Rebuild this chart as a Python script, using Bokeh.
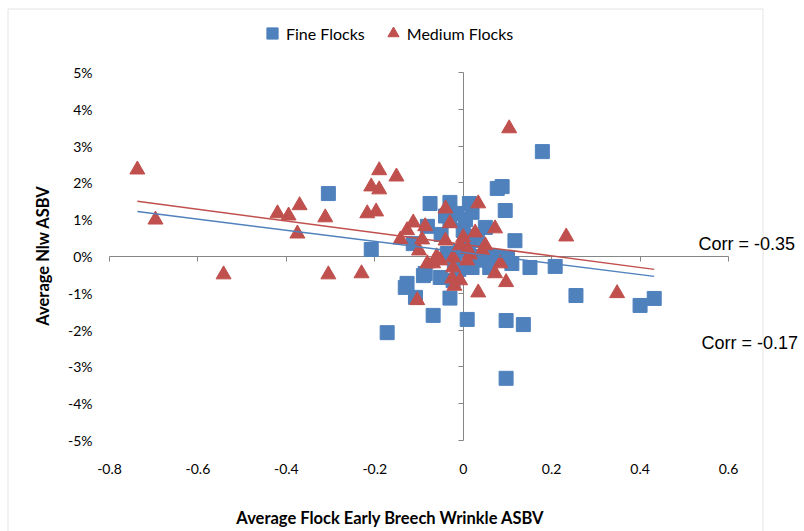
import math
from bokeh.plotting import figure
from bokeh.models import (LinearAxis, FixedTicker, Legend, LegendItem, Label,
                          BoxAnnotation, Range1d)
from bokeh.embed import file_html
from bokeh.resources import INLINE

# ---------------- data ----------------
fine_x = [-0.305, 0.179, 0.077, 0.088, -0.075, -0.030, 0.014, 0.095, -0.081, 0.050,
          -0.030, -0.014, 0.000, 0.117, 0.032, -0.113, -0.208, -0.007, -0.036, 0.100,
          0.110, 0.020, 0.151, 0.208, -0.086, -0.052, -0.023, -0.090, -0.127, -0.131,
          -0.108, -0.030, -0.068, 0.009, 0.097, 0.136, -0.172, 0.097, 0.255, 0.400,
          0.432, 0.005, 0.012, -0.020, 0.030, 0.060, -0.050, 0.020, 0.045, -0.010,
          0.070, -0.040, 0.010]
fine_y = [1.71, 2.85, 1.85, 1.90, 1.44, 1.47, 1.44, 1.25, 0.82, 0.79,
          0.98, 1.17, 0.71, 0.43, 0.43, 0.35, 0.19, 0.16, 0.08, -0.03,
          -0.19, -0.30, -0.30, -0.27, -0.46, -0.57, -0.65, -0.52, -0.73, -0.84,
          -1.11, -1.13, -1.60, -1.71, -1.74, -1.85, -2.07, -3.31, -1.06, -1.33,
          -1.14, 1.00, 0.30, -0.20, -0.10, -0.30, 0.60, 1.20, 0.00, -0.35,
          0.00, 1.10, 0.55]

medium_x = [-0.737, -0.696, -0.542, -0.420, -0.395, -0.370, -0.375, -0.312, -0.305, -0.230,
            -0.217, -0.197, -0.208, -0.190, -0.190, -0.151, -0.142, -0.127, -0.113, -0.100,
            -0.093, -0.086, -0.081, -0.104, -0.068, -0.052, -0.040, -0.030, -0.040, -0.023,
            -0.023, -0.025, -0.007, -0.007, 0.000, 0.009, 0.027, 0.034, 0.043, 0.034,
            0.072, 0.084, 0.072, 0.097, 0.104, 0.233, 0.348, -0.020, 0.015, 0.050,
            -0.060, 0.010]
medium_y = [2.36, 1.00, -0.49, 1.17, 1.11, 1.39, 0.62, 1.06, -0.49, -0.46,
            1.17, 1.22, 1.90, 1.82, 2.34, 2.17, 0.46, 0.71, 0.92, 0.16,
            0.46, 0.82, -0.19, -1.19, -0.19, -0.11, 1.30, 0.90, 0.43, -0.03,
            -0.30, -0.60, -0.65, 0.30, 0.52, -0.11, 0.65, 1.44, 0.16, -0.98,
            0.76, -0.19, -0.46, -0.70, 3.48, 0.54, -1.00, -0.80, 0.05, 0.30,
            0.00, 0.20]

trend_x = [-0.737, 0.432]
fine_trend = [1.22, -0.54]
medium_trend = [1.50, -0.35]

series_names = ["Fine Flocks", "Medium Flocks"]
x_ticks = [-0.8, -0.6, -0.4, -0.2, 0, 0.2, 0.4, 0.6]
x_tick_labels = ["-0.8", "-0.6", "-0.4", "-0.2", "0", "0.2", "0.4", "0.6"]
y_ticks = [-5, -4, -3, -2, -1, 0, 1, 2, 3, 4, 5]
y_tick_labels = ["-5%", "-4%", "-3%", "-2%", "-1%", "0%", "1%", "2%", "3%", "4%", "5%"]
x_title = "Average Flock Early Breech Wrinkle ASBV"
y_title = "Average Nlw ASBV"
corr_texts = ["Corr = -0.35", "Corr = -0.17"]

# ---------------- layout / style ----------------
W, H = 804, 531
PX_L, PX_R, PX_T, PX_B = 109, 728, 72, 440      # pixel box of the data area
XMIN, XMAX, YMIN, YMAX = x_ticks[0], x_ticks[-1], y_ticks[0], y_ticks[-1]
sx = (PX_R - PX_L) / (XMAX - XMIN)
sy = (PX_B - PX_T) / (YMAX - YMIN)
x_start = XMIN - PX_L / sx
x_end = XMAX + (W - PX_R) / sx
y_end = YMAX + PX_T / sy
y_start = YMIN - (H - PX_B) / sy

def px2x(px):
    return x_start + px / sx

def py2y(py):
    return y_end - py / sy

BLUE = "#4F81BD"
RED = "#C0504D"
AXIS = "#868686"
FONT = "Lato"

p = figure(width=W, height=H, output_backend="svg", toolbar_location=None,
           x_range=Range1d(x_start, x_end), y_range=Range1d(y_start, y_end),
           x_axis_location=None, y_axis_location=None, min_border=0,
           outline_line_color=None, background_fill_color="white",
           border_fill_color="white")
p.grid.visible = False

# axes crossing at the origin (line + ticks only)
x0 = LinearAxis(fixed_location=0, bounds=(XMIN, XMAX), ticker=FixedTicker(ticks=x_ticks),
                major_label_overrides={t: "" for t in x_ticks},
                axis_line_color=AXIS, major_tick_line_color=AXIS,
                major_tick_out=5, major_tick_in=0, minor_tick_line_color=None,
                level="underlay")
y0 = LinearAxis(fixed_location=0, bounds=(YMIN, YMAX), ticker=FixedTicker(ticks=y_ticks),
                major_label_overrides={t: "" for t in y_ticks},
                axis_line_color=AXIS, major_tick_line_color=AXIS,
                major_tick_out=5, major_tick_in=0, minor_tick_line_color=None,
                level="underlay")
p.add_layout(x0, "below")
p.add_layout(y0, "left")

# tick-label axes at the edges of the data area
xl = LinearAxis(fixed_location=YMIN, bounds=(XMIN, XMAX), ticker=FixedTicker(ticks=x_ticks),
                major_label_overrides=dict(zip(x_ticks, x_tick_labels)),
                major_label_standoff=23)
yl = LinearAxis(fixed_location=XMIN, bounds=(YMIN, YMAX), ticker=FixedTicker(ticks=y_ticks),
                major_label_overrides=dict(zip(y_ticks, y_tick_labels)),
                major_label_standoff=17)
for ax in (xl, yl):
    ax.axis_line_color = None
    ax.major_tick_line_color = None
    ax.minor_tick_line_color = None
    ax.major_tick_out = 0
    ax.major_tick_in = 0
    ax.major_label_text_font = FONT
    ax.major_label_text_font_size = "14px"
    ax.major_label_text_color = "#000000"
p.add_layout(xl, "below")
p.add_layout(yl, "left")

# series
r_fine = p.scatter(fine_x, fine_y, marker="square", size=14,
                   fill_color=BLUE, line_color=BLUE)
r_med = p.scatter(medium_x, medium_y, marker="triangle", size=15,
                  fill_color=RED, line_color=RED)
p.line(trend_x, fine_trend, line_color=BLUE, line_width=1.5)
p.line(trend_x, medium_trend, line_color=RED, line_width=1.5)

legend = Legend(items=[LegendItem(label=series_names[0], renderers=[r_fine]),
                       LegendItem(label=series_names[1], renderers=[r_med])],
                orientation="horizontal", location=(258, H - 47),
                glyph_width=28, glyph_height=28, label_height=28,
                label_standoff=-4, spacing=14, padding=0, margin=0,
                border_line_color=None, background_fill_alpha=0,
                label_text_font=FONT, label_text_font_size="16px",
                label_text_color="#000000")
p.add_layout(legend)

# axis titles
p.add_layout(Label(x=px2x(390), y=py2y(517), text=x_title, text_font=FONT,
                   text_font_size="16.5px", text_font_style="bold",
                   text_align="center", text_baseline="middle",
                   text_color="#000000"))
p.add_layout(Label(x=px2x(42), y=py2y(255), text=y_title, text_font=FONT,
                   text_font_size="16.5px", text_font_style="bold", angle=math.pi / 2,
                   text_align="center", text_baseline="middle",
                   text_color="#000000"))

# correlation notes
p.add_layout(Label(x=px2x(698), y=py2y(243), text=corr_texts[0], text_font="Liberation Sans",
                   text_font_size="18px", text_baseline="alphabetic",
                   text_color="#000000"))
p.add_layout(Label(x=px2x(701), y=py2y(342), text=corr_texts[1], text_font="Liberation Sans",
                   text_font_size="18px", text_baseline="alphabetic",
                   text_color="#000000"))

# chart-area frame (open at the bottom edge of the picture)
p.add_layout(BoxAnnotation(left=px2x(7.5), right=px2x(762.5), top=py2y(8.5), bottom=py2y(560),
                           fill_color=None, line_color="#a6a6a6", line_width=1))

open("out.html", "w").write(file_html(p, INLINE))
